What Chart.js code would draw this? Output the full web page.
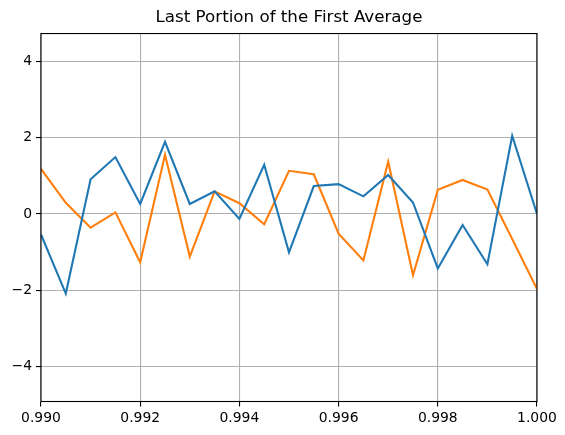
<!DOCTYPE html>
<html>
<head>
<meta charset="utf-8">
<script src="https://cdn.jsdelivr.net/npm/chart.js@4"></script>
<style>
  html, body { margin: 0; padding: 0; background: #fff; }
  #wrap { width: 565px; height: 435px; }
</style>
</head>
<body>
<div id="wrap"><canvas id="chart" width="565" height="435"></canvas></div>
<script>
// time positions along the x axis
const xs = [0.9900, 0.9905, 0.9910, 0.9915, 0.9920, 0.9925, 0.9930, 0.9935, 0.9940, 0.9945,
            0.9950, 0.9955, 0.9960, 0.9965, 0.9970, 0.9975, 0.9980, 0.9985, 0.9990, 0.9995, 1.0000];

// first series (blue)
const blueValues = [-0.54, -2.09, 0.91, 1.49, 0.26, 1.89, 0.26, 0.59, -0.13, 1.29,
                    -1.01, 0.73, 0.78, 0.46, 1.02, 0.30, -1.43, -0.29, -1.32, 2.05, 0.00];

// second series (orange)
const orangeValues = [1.18, 0.29, -0.36, 0.04, -1.27, 1.55, -1.12, 0.59, 0.28, -0.27,
                      1.13, 1.04, -0.52, -1.22, 1.37, -1.61, 0.63, 0.89, 0.64, -0.66, -1.97];

const xTicks = [0.990, 0.992, 0.994, 0.996, 0.998, 1.000];
const yTicks = [-4, -2, 0, 2, 4];

const font = { family: 'DejaVu Sans', size: 13.9 };

// matplotlib-style box around the plot
const frame = {
  id: 'frame',
  afterDraw(chart) {
    const a = chart.chartArea, c = chart.ctx;
    c.save();
    c.strokeStyle = '#000';
    c.lineWidth = 1.1;
    c.strokeRect(a.left, a.top, a.right - a.left, a.bottom - a.top);
    c.restore();
  }
};

const toPts = vals => vals.map((v, i) => ({ x: xs[i], y: v }));

new Chart(document.getElementById('chart').getContext('2d'), {
  type: 'line',
  data: {
    datasets: [
      { data: toPts(blueValues), borderColor: '#1f77b4', borderWidth: 2.1, pointRadius: 0, tension: 0 },
      { data: toPts(orangeValues), borderColor: '#ff7f0e', borderWidth: 2.1, pointRadius: 0, tension: 0 }
    ]
  },
  options: {
    responsive: false,
    animation: false,
    devicePixelRatio: 1,
    layout: { padding: { left: 0, right: 28, top: 0, bottom: 0 } },
    plugins: {
      legend: { display: false },
      tooltip: { enabled: false },
      title: {
        display: true,
        fullSize: false, // centre over the plot area like matplotlib
        text: 'Last Portion of the First Average',
        color: '#000',
        font: { family: 'DejaVu Sans', size: 16.7, weight: 'normal' },
        padding: { top: 8, bottom: 5.5 }
      }
    },
    scales: {
      x: {
        type: 'linear',
        min: 0.990,
        max: 1.000,
        afterBuildTicks: s => { s.ticks = xTicks.map(v => ({ value: v })); },
        afterFit: s => { s.height = 33.5; },
        grid: { color: '#b0b0b0', lineWidth: 1.1, tickColor: '#000', tickLength: 5, tickWidth: 1.1 },
        border: { display: false },
        ticks: {
          color: '#000', font: font, padding: 4, maxRotation: 0,
          callback: v => v.toFixed(3)
        }
      },
      y: {
        min: -4.92,
        max: 4.73,
        afterBuildTicks: s => { s.ticks = yTicks.map(v => ({ value: v })); },
        afterFit: s => { s.width = 41; },
        grid: { color: '#b0b0b0', lineWidth: 1.1, tickColor: '#000', tickLength: 5, tickWidth: 1.1 },
        border: { display: false },
        ticks: {
          color: '#000', font: font, padding: 4,
          callback: v => String(v).replace('-', '\u2212')
        }
      }
    }
  },
  plugins: [frame]
});
</script>
</body>
</html>
